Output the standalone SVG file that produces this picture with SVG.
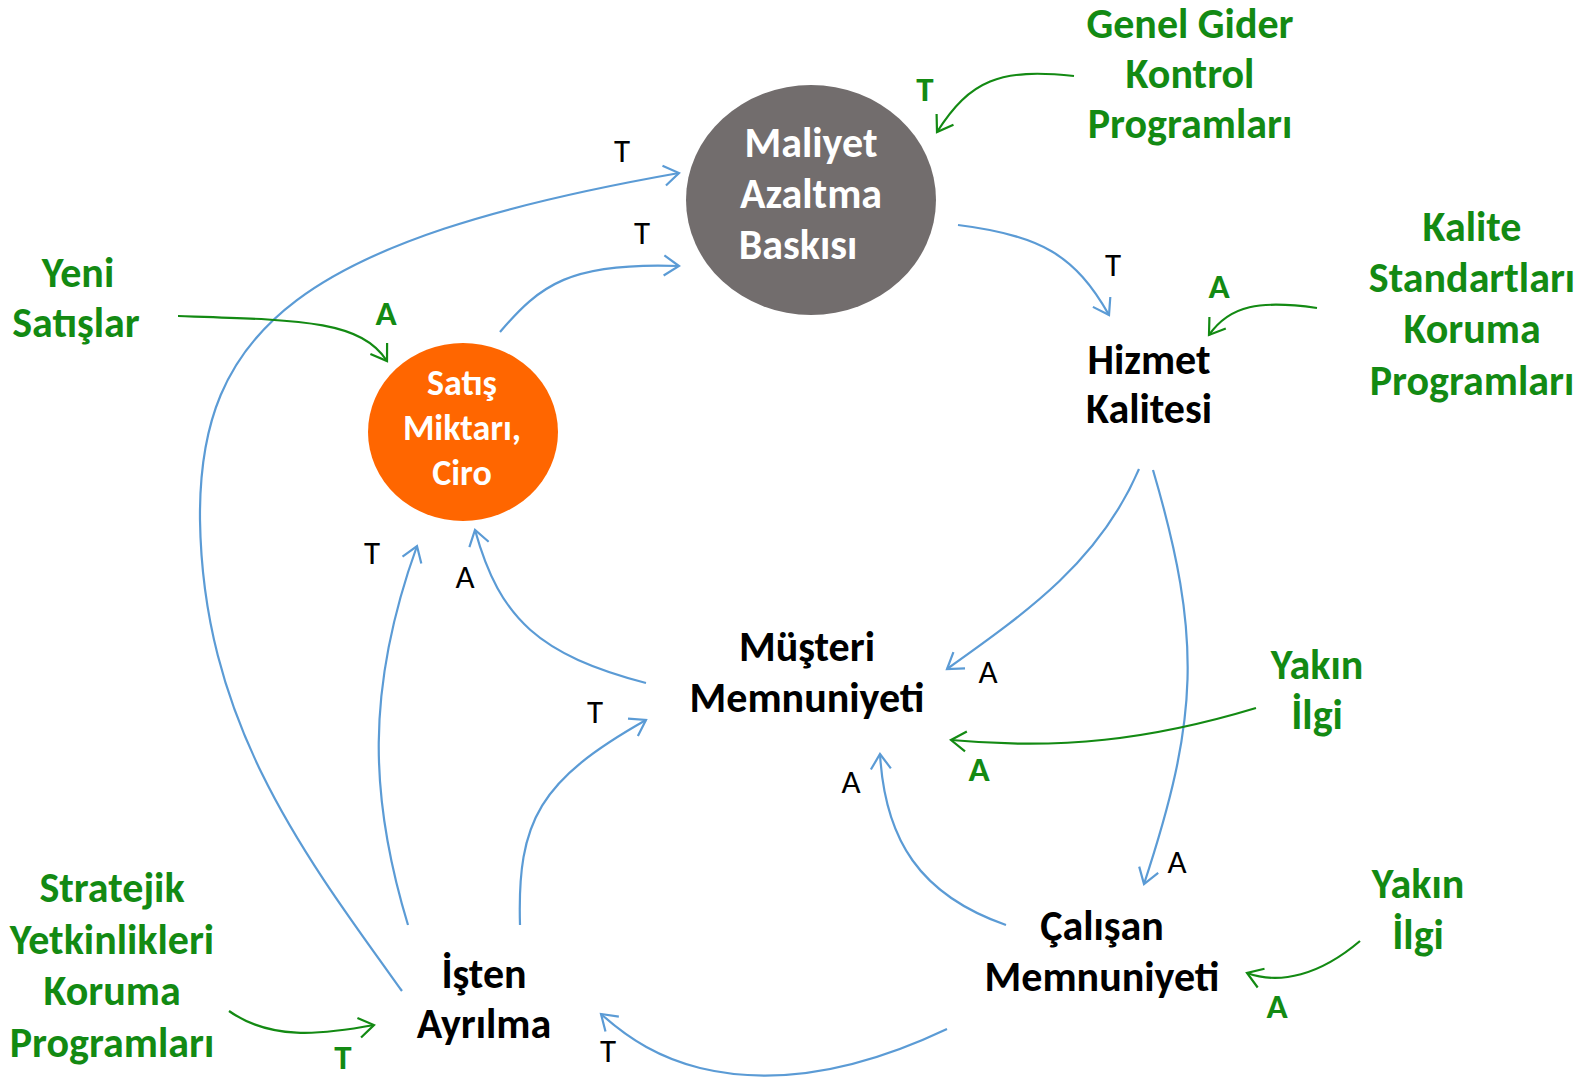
<svg xmlns="http://www.w3.org/2000/svg" width="1593" height="1077" viewBox="0 0 1593 1077">
<style>
.lbl{font-family:Carlito,Calibri,Lato,"Liberation Sans",sans-serif;font-weight:bold;font-size:42px;text-anchor:middle}
.blk{fill:#000}
.wht{fill:#fff}
.grn{fill:#138A13}
.sm{font-family:Carlito,Calibri,Lato,"Liberation Sans",sans-serif;font-size:33px;text-anchor:middle;fill:#000}
.smg{font-family:Carlito,Calibri,Lato,"Liberation Sans",sans-serif;font-size:35px;font-weight:bold;text-anchor:middle;fill:#138A13}
.blue{fill:none;stroke:#5B9BD5;stroke-width:2.2;marker-end:url(#ab)}
.green{fill:none;stroke:#138A13;stroke-width:2.2;marker-end:url(#ag)}
</style>
<defs>
<marker id="ab" viewBox="0 0 12 12" refX="11" refY="6" markerWidth="12" markerHeight="12" markerUnits="userSpaceOnUse" orient="auto" overflow="visible">
<path d="M-4,-4 L11,6 L-4,16" fill="none" stroke="#5B9BD5" stroke-width="2.2"/>
</marker>
<marker id="ag" viewBox="0 0 12 12" refX="11" refY="6" markerWidth="12" markerHeight="12" markerUnits="userSpaceOnUse" orient="auto" overflow="visible">
<path d="M-4,-4 L11,6 L-4,16" fill="none" stroke="#138A13" stroke-width="2.2"/>
</marker>
</defs>
<rect width="1593" height="1077" fill="#fff"/>
<g id="connectors">
<path class="blue" d="M 402 991 C 300 850, 203 720, 200 520 C 198 330, 300 240, 679 173"/>
<path class="blue" d="M 500 332 C 540 285, 570 262, 679 266"/>
<path class="blue" d="M 958 225 C 1040 235, 1075 255, 1109 315"/>
<path class="blue" d="M 1139 469 C 1100 560, 1030 610, 947 669"/>
<path class="blue" d="M 1153 470 C 1203 640, 1198 720, 1144 884"/>
<path class="blue" d="M 646 683 C 540 655, 500 620, 475 530"/>
<path class="blue" d="M 408 925 C 370 800, 365 690, 417 546"/>
<path class="blue" d="M 520 925 C 517 820, 540 780, 646 720"/>
<path class="blue" d="M 1006 925 C 920 895, 885 840, 880 754"/>
<path class="blue" d="M 947 1029 C 850 1075, 770 1085, 700 1068 C 660 1058, 630 1040, 601 1014"/>
<path class="green" d="M 1074 76 C 1000 68, 970 80, 937 132"/>
<path class="green" d="M 178 316 C 300 320, 360 320, 387 361"/>
<path class="green" d="M 1317 308 C 1260 300, 1230 305, 1209 335"/>
<path class="green" d="M 1256 708 C 1150 740, 1060 750, 951 740"/>
<path class="green" d="M 1360 941 C 1320 975, 1280 985, 1247 973"/>
<path class="green" d="M 229 1011 C 270 1040, 320 1035, 374 1025"/>
</g>
<g id="connector-labels">
<text class="sm" x="622" y="162">T</text>
<text class="sm" x="642" y="244">T</text>
<text class="sm" x="1113" y="276">T</text>
<text class="sm" x="372" y="564">T</text>
<text class="sm" x="465" y="588">A</text>
<text class="sm" x="988" y="683">A</text>
<text class="sm" x="595" y="723">T</text>
<text class="sm" x="851" y="793">A</text>
<text class="sm" x="1177" y="873">A</text>
<text class="sm" x="608" y="1062">T</text>
<text class="smg" x="925" y="101">T</text>
<text class="smg" x="386" y="325">A</text>
<text class="smg" x="1219" y="298">A</text>
<text class="smg" x="979" y="781">A</text>
<text class="smg" x="1277" y="1018">A</text>
<text class="smg" x="343" y="1069">T</text>
</g>
<g id="maliyet">
<ellipse cx="811" cy="200" rx="125" ry="115" fill="#726D6D"/>
<text class="lbl wht" x="811" y="157">Maliyet</text>
<text class="lbl wht" x="811" y="208">Azaltma</text>
<text class="lbl wht" x="798" y="259">Baskısı</text>
</g>
<g id="satis">
<ellipse cx="463" cy="432" rx="95" ry="89" fill="#FF6600"/>
<text class="lbl wht" style="font-size:36px" x="462" y="395">Satış</text>
<text class="lbl wht" style="font-size:36px" x="462" y="440">Miktarı,</text>
<text class="lbl wht" style="font-size:36px" x="462" y="485">Ciro</text>
</g>
<g id="hizmet">
<text class="lbl blk" x="1149" y="374">Hizmet</text>
<text class="lbl blk" x="1149" y="423">Kalitesi</text>
</g>
<g id="musteri">
<text class="lbl blk" x="807" y="661">Müşteri</text>
<text class="lbl blk" x="807" y="712">Memnuniyeti</text>
</g>
<g id="calisan">
<text class="lbl blk" x="1102" y="940">Çalışan</text>
<text class="lbl blk" x="1102" y="991">Memnuniyeti</text>
</g>
<g id="isten">
<text class="lbl blk" x="484" y="988">İşten</text>
<text class="lbl blk" x="484" y="1038">Ayrılma</text>
</g>
<g id="genel-gider">
<text class="lbl grn" x="1190" y="38">Genel Gider</text>
<text class="lbl grn" x="1190" y="88">Kontrol</text>
<text class="lbl grn" x="1190" y="138">Programları</text>
</g>
<g id="yeni-satislar">
<text class="lbl grn" x="78" y="287">Yeni</text>
<text class="lbl grn" x="76" y="337">Satışlar</text>
</g>
<g id="kalite-std">
<text class="lbl grn" x="1472" y="241">Kalite</text>
<text class="lbl grn" x="1472" y="292">Standartları</text>
<text class="lbl grn" x="1472" y="343">Koruma</text>
<text class="lbl grn" x="1472" y="395">Programları</text>
</g>
<g id="yakin-ilgi-1">
<text class="lbl grn" x="1317" y="679">Yakın</text>
<text class="lbl grn" x="1317" y="729">İlgi</text>
</g>
<g id="yakin-ilgi-2">
<text class="lbl grn" x="1418" y="898">Yakın</text>
<text class="lbl grn" x="1418" y="949">İlgi</text>
</g>
<g id="stratejik">
<text class="lbl grn" x="112" y="902">Stratejik</text>
<text class="lbl grn" x="112" y="954">Yetkinlikleri</text>
<text class="lbl grn" x="112" y="1005">Koruma</text>
<text class="lbl grn" x="112" y="1057">Programları</text>
</g>
</svg>
